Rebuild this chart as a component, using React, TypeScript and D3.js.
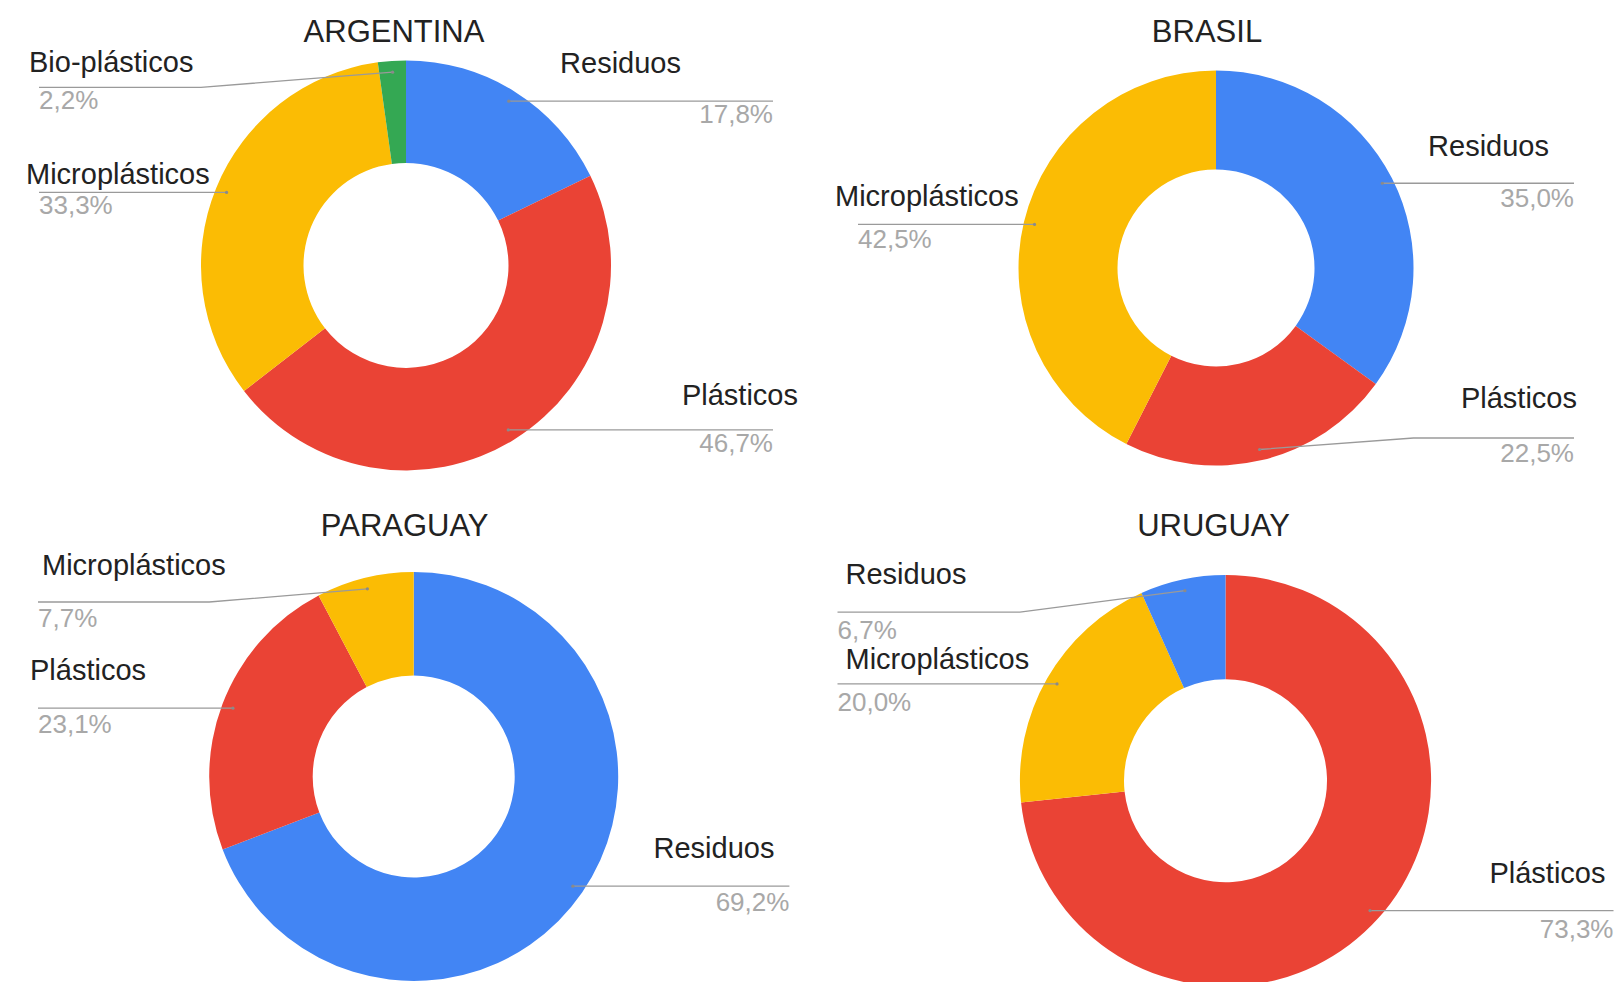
import React from 'react';
import * as d3 from 'd3';

// Datos por país (porcentajes)
const countries = ['ARGENTINA', 'BRASIL', 'PARAGUAY', 'URUGUAY'];

const argentinaLabels = ['Residuos', 'Plásticos', 'Microplásticos', 'Bio-plásticos'];
const argentinaValues = [17.8, 46.7, 33.3, 2.2];

const brasilLabels = ['Residuos', 'Plásticos', 'Microplásticos'];
const brasilValues = [35.0, 22.5, 42.5];

const paraguayLabels = ['Residuos', 'Plásticos', 'Microplásticos'];
const paraguayValues = [69.2, 23.1, 7.7];

const uruguayLabels = ['Plásticos', 'Microplásticos', 'Residuos'];
const uruguayValues = [73.3, 20.0, 6.7];

const categories = ['Residuos', 'Plásticos', 'Microplásticos', 'Bio-plásticos'];
const categoryColors = ['#4285F4', '#EA4335', '#FBBC04', '#34A853'];

const seriesLabels = [argentinaLabels, brasilLabels, paraguayLabels, uruguayLabels];
const seriesValues = [argentinaValues, brasilValues, paraguayValues, uruguayValues];

// layout of each panel (center, radii, label reach, edge padding, value offset)
const panels = [
  { cx: 406, cy: 265.4, R: 205, r: 102.5, L: 367, pad: 27, valueDy: 22, titleDx: -12 },
  { cx: 1216, cy: 268, R: 197.5, r: 98.5, L: 358, pad: 27.5, valueDy: 23.5, titleDx: -9 },
  { cx: 413.7, cy: 776.5, R: 204.5, r: 101, L: 375.7, pad: 30, valueDy: 24.5, titleDx: -9 },
  { cx: 1225.5, cy: 780.7, R: 205.6, r: 101.5, L: 388, pad: 37, valueDy: 27, titleDx: -12 },
];

// small nudges of the category name relative to its leader line
const nameNudge: Record<string, [number, number]> = {
  'ARGENTINA|Residuos': [-92, -28],
  'ARGENTINA|Plásticos': [25, -25],
  'ARGENTINA|Bio-plásticos': [-10, -15],
  'ARGENTINA|Microplásticos': [-13, -8],
  'BRASIL|Residuos': [-25, -27],
  'BRASIL|Plásticos': [3, -30],
  'BRASIL|Microplásticos': [-23, -18],
  'PARAGUAY|Microplásticos': [4, -27],
  'PARAGUAY|Plásticos': [-8, -28],
  'PARAGUAY|Residuos': [-15, -28],
  'URUGUAY|Residuos': [8, -28],
  'URUGUAY|Microplásticos': [8, -15],
  'URUGUAY|Plásticos': [-8, -28],
};

const color = d3.scaleOrdinal<string, string>().domain(categories).range(categoryColors);
const fmt = (v: number) => v.toFixed(1).replace('.', ',') + '%';
const FONT = "Arial, 'Liberation Sans', Helvetica, sans-serif";

type Row = { label: string; value: number };

const Donut = ({ idx }: { idx: number }) => {
  const p = panels[idx];
  const country = countries[idx];
  const rows: Row[] = seriesLabels[idx].map((label, i) => ({ label, value: seriesValues[idx][i] }));
  const pie = d3.pie<Row>().sort(null).value(d => d.value);
  const arcs = pie(rows);
  const arc = d3.arc<d3.PieArcDatum<Row>>().innerRadius(p.r).outerRadius(p.R);
  const rr = p.R * 0.945;

  return (
    <g>
      <text x={p.cx + p.titleDx} y={idx < 2 ? 42 : 536} textAnchor="middle" fontSize={31} fill="#222" fontFamily={FONT}>
        {country}
      </text>
      <g transform={`translate(${p.cx},${p.cy})`}>
        {arcs.map((a, i) => (
          <path key={i} d={arc(a) || ''} fill={color(a.data.label)} />
        ))}
      </g>
      {arcs.map((a, i) => {
        const ang = (a.startAngle + a.endAngle) / 2;
        const ax = p.cx + rr * Math.sin(ang);
        const ay = p.cy - rr * Math.cos(ang);
        const right = Math.sin(ang) >= 0;
        const lineY = Math.max(p.cy - p.R + p.pad, Math.min(p.cy + p.R - p.pad, ay));
        const edge = right ? p.cx + p.L : p.cx - p.L;
        const elbow = right ? p.cx + p.R : p.cx - p.R;
        const pts: [number, number][] =
          Math.abs(lineY - ay) < 0.5
            ? [[ax, ay], [edge, lineY]]
            : [[ax, ay], [elbow, lineY], [edge, lineY]];
        const line = d3.line();
        const [ndx, ndy] = nameNudge[`${country}|${a.data.label}`] || [0, -27];
        return (
          <g key={i}>
            <path d={line(pts) || ''} fill="none" stroke="#9a9a9a" strokeWidth={1.3} />
            <circle cx={ax} cy={ay} r={1.6} fill="#8a8a8a" />
            <text
              x={edge + ndx}
              y={lineY + ndy}
              textAnchor={right ? 'end' : 'start'}
              fontSize={29}
              fill="#222"
              fontFamily={FONT}
            >
              {a.data.label}
            </text>
            <text
              x={edge}
              y={lineY + p.valueDy}
              textAnchor={right ? 'end' : 'start'}
              fontSize={26}
              fill="#a8a8a8"
              fontFamily={FONT}
            >
              {fmt(a.data.value)}
            </text>
          </g>
        );
      })}
    </g>
  );
};

export default function App() {
  return (
    <svg
      width={1616}
      height={982}
      viewBox="0 0 1616 982"
      style={{ position: 'absolute', left: 0, top: 0, background: '#fff' }}
    >
      <rect width={1616} height={982} fill="#fff" />
      {countries.map((_, i) => (
        <Donut key={i} idx={i} />
      ))}
    </svg>
  );
}
